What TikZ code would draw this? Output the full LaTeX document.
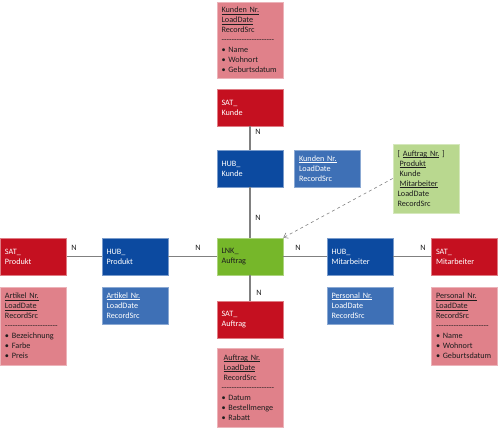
\documentclass[tikz,border=0pt]{standalone}
\usepackage{fontspec}
\setmainfont{Carlito}
\newfontfamily\hyfont{Carlito}[Ligatures=TeXOff]
\usetikzlibrary{arrows.meta}
\definecolor{satred}{RGB}{197,16,32}
\definecolor{hubblue}{RGB}{12,74,160}
\definecolor{attrblue}{RGB}{62,112,182}
\definecolor{attrpink}{RGB}{224,129,138}
\definecolor{lnkgreen}{RGB}{118,183,42}
\definecolor{attrgreen}{RGB}{185,216,143}
\definecolor{linegray}{RGB}{128,128,128}
\definecolor{darktext}{RGB}{30,30,30}
\newcommand{\sepl}{{\hyfont ---------------------}}
\newcommand{\ul}[1]{\leavevmode\setbox0\hbox{#1}\rlap{\rule[-1.3pt]{\wd0}{0.5pt}}\box0\relax}
\newcommand{\boxfont}{\fontsize{8.2}{10}\selectfont\hyphenpenalty 10000\relax}
\tikzset{
  base/.style={rectangle, minimum width=66pt, minimum height=37pt, inner xsep=4.5pt, inner ysep=3pt,
    text width=57pt, align=left, font=\boxfont, line width=0.6pt},
  satbox/.style={base, fill=satred, draw=satred!55!white, text=white},
  hubbox/.style={base, fill=hubblue, draw=hubblue!55!white, text=white},
  lnkbox/.style={base, fill=lnkgreen, draw=lnkgreen!60!white, text=darktext},
  blueattr/.style={base, fill=attrblue, draw=attrblue!60!white, text=white},
  pinkattr/.style={base, fill=attrpink, draw=attrpink!60!white, text=darktext},
  greenattr/.style={base, fill=attrgreen, draw=attrgreen!60!white, text=darktext},
  conn/.style={draw=linegray, line width=1.4pt},
  card/.style={font=\boxfont, text=darktext, inner sep=0pt}
}
\begin{document}
\begin{tikzpicture}[x=1pt,y=-1pt]
\useasboundingbox (0,0) rectangle (500,430);
% attribute boxes
\node[pinkattr, minimum height=76pt] (kattr) at (250,40)
  {\ul{Kunden Nr.}\\ \ul{LoadDate}\\ RecordSrc\\ \sepl\\ • Name\\ • Wohnort\\ • Geburtsdatum};
\node[satbox] (satK) at (250,107.5) {SAT\_\\ Kunde};
\node[hubbox] (hubK) at (250,168.5) {HUB\_\\ Kunde};
\node[blueattr] (kbl) at (327.5,168.5) {\ul{Kunden Nr.}\\ LoadDate\\ RecordSrc};
\node[greenattr, minimum height=69pt] (gattr) at (426,178.5)
  {[ \ul{Auftrag Nr.} ]\\ \hspace{2pt}\ul{Produkt}\\ \hspace{2pt}Kunde\\ \hspace{2pt}\ul{Mitarbeiter}\\ LoadDate\\ RecordSrc};
\node[lnkbox] (lnk) at (250,256.5) {LNK\_\\ Auftrag};
\node[satbox] (satA) at (250,319.5) {SAT\_\\ Auftrag};
\node[pinkattr, minimum height=79pt] (aattr) at (250,387.5)
  {\hspace{2pt}\ul{Auftrag Nr.}\\ \hspace{2pt}\ul{LoadDate}\\ \hspace{2pt}RecordSrc\\ \sepl\\ • Datum\\ • Bestellmenge\\ • Rabatt};
\node[hubbox] (hubM) at (360,256.5) {HUB\_\\ Mitarbeiter};
\node[blueattr] (pbl) at (360,305.5) {\ul{Personal Nr.}\\ LoadDate\\ RecordSrc};
\node[satbox] (satM) at (464.5,256.5) {SAT\_\\ Mitarbeiter};
\node[pinkattr, minimum height=78pt] (mattr) at (464.5,326)
  {\ul{Personal Nr.}\\ \ul{LoadDate}\\ RecordSrc\\ \sepl\\ • Name\\ • Wohnort\\ • Geburtsdatum};
\node[hubbox] (hubP) at (135,256.5) {HUB\_\\ Produkt};
\node[blueattr] (abl) at (135,305.5) {\ul{Artikel Nr.}\\ LoadDate\\ RecordSrc};
\node[satbox] (satP) at (33.5,256.5) {SAT\_\\ Produkt};
\node[pinkattr, minimum height=78pt] (pattr) at (33.5,326)
  {\ul{Artikel Nr.}\\ \ul{LoadDate}\\ RecordSrc\\ \sepl\\ • Bezeichnung\\ • Farbe\\ • Preis};
% connectors
\draw[conn] (satK) -- (hubK);
\draw[conn] (hubK) -- (lnk);
\draw[conn] (lnk) -- (satA);
\draw[conn] (satP) -- (hubP);
\draw[conn] (hubP) -- (lnk);
\draw[conn] (lnk) -- (hubM);
\draw[conn] (hubM) -- (satM);
\draw[dashed, draw=linegray, line width=0.6pt, -{Straight Barb[length=4pt,width=6pt]}] (gattr.west) -- (lnk.north east);
% cardinalities
\node[card] (n1) at (258,132) {N};
\node[card] (n2) at (258,218) {N};
\node[card] (n3) at (259,293) {N};
\node[card] (n4) at (74,248) {N};
\node[card] (n5) at (198,248) {N};
\node[card] (n6) at (298,248) {N};
\node[card] (n7) at (423,248) {N};
\end{tikzpicture}
\end{document}
